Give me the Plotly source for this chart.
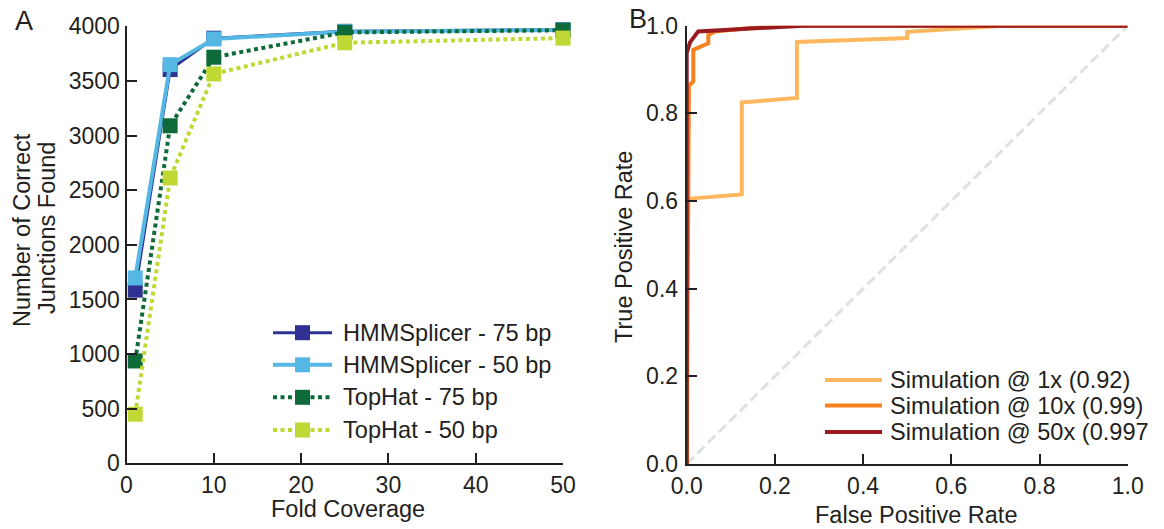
import plotly.graph_objects as go

W, H = 1164, 529
FONT = "Liberation Sans, Arial, Helvetica, sans-serif"
INK = "#231F20"

# ---------------- Panel A data ----------------
coverage = [1, 5, 10, 25, 50]
hmm_75 = [1585, 3605, 3892, 3955, 3970]
hmm_50 = [1697, 3650, 3885, 3952, 3968]
tophat_75 = [937, 3090, 3718, 3945, 3965]
tophat_50 = [449, 2612, 3565, 3850, 3893]
a_names = ["HMMSplicer - 75 bp", "HMMSplicer - 50 bp", "TopHat - 75 bp", "TopHat - 50 bp"]
a_xticks = [0, 10, 20, 30, 40, 50]
a_yticks = [0, 500, 1000, 1500, 2000, 2500, 3000, 3500, 4000]

# ---------------- Panel B data ----------------
fpr_1x = [0, 0, 0.125, 0.125, 0.25, 0.25, 0.5, 0.5, 0.72, 1.0]
tpr_1x = [0, 0.605, 0.615, 0.825, 0.835, 0.963, 0.972, 0.986, 1.0, 1.0]
fpr_10x = [0, 0.005, 0.015, 0.015, 0.049, 0.049, 0.064, 0.2, 1.0]
tpr_10x = [0, 0.863, 0.873, 0.945, 0.960, 0.979, 0.987, 1.0, 1.0]
fpr_50x = [0, 0, 0.0075, 0.026, 0.264, 1.0]
tpr_50x = [0, 0.938, 0.962, 0.987, 1.0, 1.0]
chance = [0, 1]
b_names = ["Simulation @ 1x (0.92)", "Simulation @ 10x (0.99)", "Simulation @ 50x (0.997"]
b_ticks = [0, 0.2, 0.4, 0.6, 0.8, 1.0]

# ---------------- styles ----------------
a_series = [hmm_75, hmm_50, tophat_75, tophat_50]
a_colors = ["#2E3192", "#55B8E4", "#0F6A39", "#BFD833"]
a_dash = ["solid", "solid", "4px,3.5px", "4px,3.5px"]
a_width = [3, 4, 4, 4]

b_series = [(fpr_1x, tpr_1x), (fpr_10x, tpr_10x), (fpr_50x, tpr_50x)]
b_colors = ["#FDB85F", "#F6821F", "#9A1A20"]

fig = go.Figure()

for ys, name, col, dash, w in zip(a_series, a_names, a_colors, a_dash, a_width):
    fig.add_trace(go.Scatter(
        x=coverage, y=ys, name=name, mode="lines+markers",
        line=dict(color=col, width=w, dash=dash),
        marker=dict(symbol="square", size=15, color=col),
        cliponaxis=False, showlegend=False, xaxis="x", yaxis="y"))

fig.add_trace(go.Scatter(
    x=chance, y=chance, mode="lines", line=dict(color="#DFE0E1", width=3, dash="10px,5px"),
    showlegend=False, xaxis="x2", yaxis="y2", hoverinfo="skip"))

for (fx, ty), name, col in zip(b_series, b_names, b_colors):
    fig.add_trace(go.Scatter(
        x=fx, y=ty, name=name, mode="lines",
        line=dict(color=col, width=4),
        cliponaxis=False, showlegend=False, xaxis="x2", yaxis="y2"))


def px(x):
    return x / W


def py(y):
    return 1 - y / H


axis_common = dict(
    showline=True, linecolor=INK, linewidth=2, ticks="inside", ticklen=10,
    tickwidth=2, tickcolor=INK, showgrid=False, zeroline=False, automargin=False,
    tickfont=dict(family=FONT, size=23, color=INK), fixedrange=True,
)

fig.update_layout(
    template="none",
    width=W, height=H, margin=dict(l=0, r=0, t=0, b=0, pad=0, autoexpand=False),
    paper_bgcolor="white", plot_bgcolor="white",
    font=dict(family=FONT, size=23, color=INK),
    xaxis=dict(domain=[px(126.5), px(563)], range=[0, 50], tickvals=a_xticks,
               anchor="y", **axis_common),
    yaxis=dict(domain=[py(463.3), py(26.4)], range=[0, 4000], tickvals=a_yticks,
               anchor="x", **axis_common),
    xaxis2=dict(domain=[px(686.7), px(1127.7)], range=[0, 1], tickvals=b_ticks,
                ticktext=[f"{t:.1f}" for t in b_ticks], anchor="y2", **axis_common),
    yaxis2=dict(domain=[py(464), py(25.7)], range=[0, 1], tickvals=b_ticks,
                ticktext=[f"{t:.1f}" for t in b_ticks], anchor="x2",
                ticklabelstandoff=2, **axis_common),
    showlegend=False,
)

shapes = []
annotations = []

# Manual legend A
legA_rows = [332.7, 364.8, 397.3, 430.0]
for yy, name, col, dash, w in zip(legA_rows, a_names, a_colors, a_dash, a_width):
    shapes.append(dict(type="line", xref="paper", yref="paper",
                       x0=px(273), x1=px(332), y0=py(yy), y1=py(yy),
                       line=dict(color=col, width=w, dash=dash)))
    shapes.append(dict(type="rect", xref="paper", yref="paper",
                       x0=px(295), x1=px(310), y0=py(yy - 7.5), y1=py(yy + 7.5),
                       fillcolor=col, line=dict(width=0)))
    annotations.append(dict(text=name, xref="paper", yref="paper", x=px(341),
                            y=py(yy), xanchor="left", yanchor="middle", showarrow=False,
                            font=dict(family=FONT, size=23.6, color=INK)))

# Manual legend B
legB_rows = [380.0, 405.5, 432.0]
for yy, name, col in zip(legB_rows, b_names, b_colors):
    shapes.append(dict(type="line", xref="paper", yref="paper",
                       x0=px(825), x1=px(882), y0=py(yy), y1=py(yy),
                       line=dict(color=col, width=4)))
    annotations.append(dict(text=name, xref="paper", yref="paper", x=px(888),
                            y=py(yy), xanchor="left", yanchor="middle", showarrow=False,
                            font=dict(family=FONT, size=23.6, color=INK)))

# Panel letters and axis titles
annotations += [
    dict(text="A", x=px(24), y=py(21), xanchor="center", yanchor="middle",
         font=dict(size=27)),
    dict(text="B", x=px(638), y=py(19), xanchor="center", yanchor="middle",
         font=dict(size=27)),
    dict(text="Fold Coverage", x=px(348), y=py(509), xanchor="center", yanchor="middle",
         font=dict(size=23.5)),
    dict(text="False Positive Rate", x=px(916), y=py(515), xanchor="center",
         yanchor="middle", font=dict(size=23.5)),
    dict(text="Number of Correct", x=px(22), y=py(230), xanchor="center", yanchor="middle",
         textangle=-90, font=dict(size=23.5)),
    dict(text="Junctions Found", x=px(47), y=py(228), xanchor="center", yanchor="middle",
         textangle=-90, font=dict(size=23.5)),
    dict(text="True Positive Rate", x=px(624), y=py(247), xanchor="center", yanchor="middle",
         textangle=-90, font=dict(size=23.5)),
]
for a in annotations:
    a.setdefault("xref", "paper")
    a.setdefault("yref", "paper")
    a.setdefault("showarrow", False)

fig.update_layout(shapes=shapes, annotations=annotations)

fig.write_html(
    "out.html",
    config={"displayModeBar": False, "staticPlot": True},
    post_script="document.body.style.margin='0';document.body.style.overflow='hidden';",
)
